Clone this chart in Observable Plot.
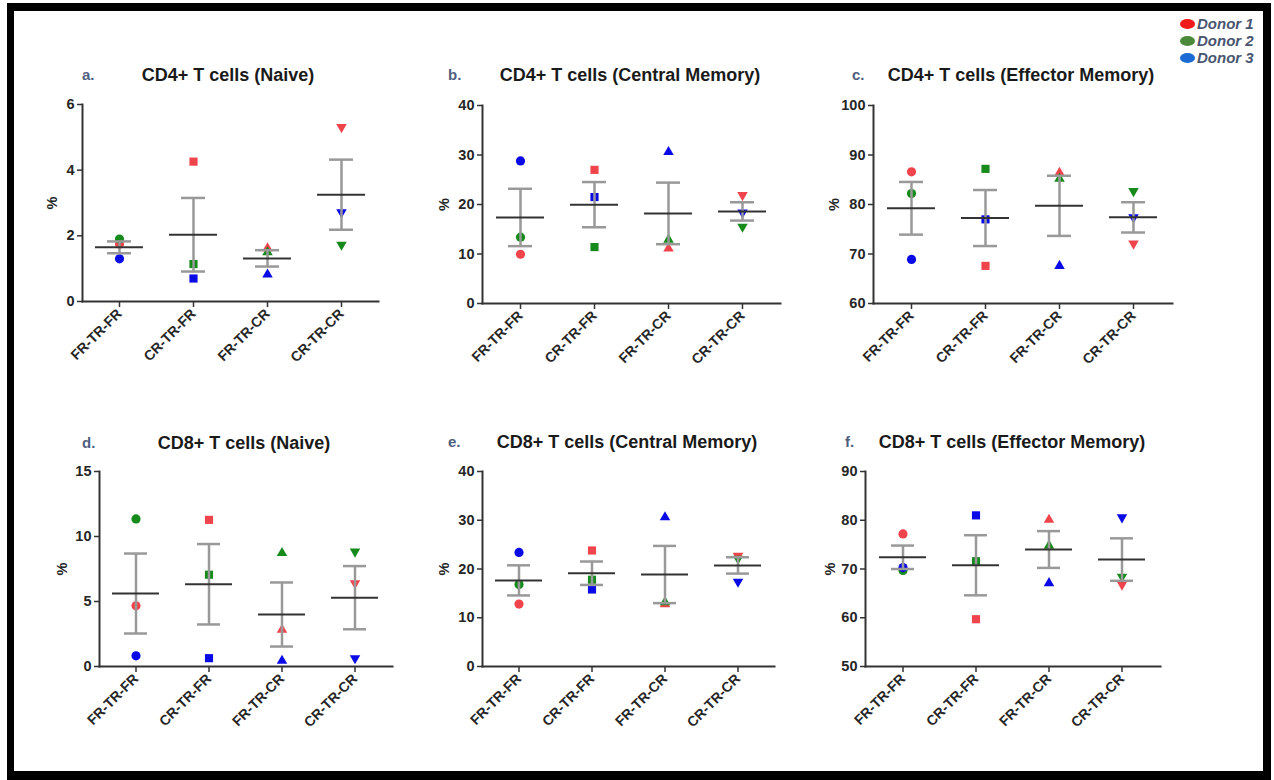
<!DOCTYPE html>
<html>
<head>
<meta charset="utf-8">
<script src="https://cdn.jsdelivr.net/npm/d3@7"></script>
<script src="https://cdn.jsdelivr.net/npm/@observablehq/plot@0.6"></script>
<style>
  html, body { margin: 0; padding: 0; background: #fff; }
  #page { position: relative; width: 1274px; height: 780px; overflow: hidden; background: #fff;
          font-family: "Liberation Sans", Arial, sans-serif; }
  #border { position: absolute; left: 7px; top: 3px; width: 1264px; height: 777px; box-sizing: border-box;
            border: 8px solid #000; border-left-width: 7px; border-bottom-width: 9px; }
  .panel { position: absolute; }
  .title { position: absolute; transform: translate(-50%, -50%); white-space: nowrap;
           font-weight: bold; font-size: 18px; color: #1a1a1a; }
  .letter { position: absolute; transform: translateY(-50%); font-weight: bold; font-size: 15px; color: #4f5f80; }
  #legend { position: absolute; left: 1180px; top: 15px; }
  .lg { display: flex; align-items: center; height: 17px; }
  .sw { width: 15px; height: 10px; border-radius: 50%; margin-right: 2px; }
  .lt { font-weight: bold; font-style: italic; font-size: 15px; color: #4a5670; }
</style>
</head>
<body>
<div id="page">
  <div id="border"></div>
</div>
<script>
// ---- data ----
const categories = ["FR-TR-FR", "CR-TR-FR", "FR-TR-CR", "CR-TR-CR"];
const donors = ["Donor 1", "Donor 2", "Donor 3"];
// values per category: [Donor 1, Donor 2, Donor 3]
const cd4Naive = [[1.75, 1.9, 1.3], [4.26, 1.14, 0.70], [1.62, 1.5, 0.82], [5.31, 1.73, 2.72]];
const cd4Central = [[9.95, 13.4, 28.8], [27.0, 11.4, 21.5], [11.1, 12.9, 30.6], [21.9, 15.5, 18.4]];
const cd4Effector = [[86.6, 82.2, 68.9], [67.6, 87.2, 77.0], [86.4, 85.2, 67.6], [72.1, 82.7, 77.4]];
const cd8Naive = [[4.67, 11.35, 0.82], [11.28, 7.06, 0.64], [2.83, 8.73, 0.44], [6.40, 8.84, 0.64]];
const cd8Central = [[12.8, 16.8, 23.4], [23.8, 17.8, 15.8], [12.8, 13.2, 30.6], [22.7, 22.1, 17.4]];
const cd8Effector = [[77.2, 69.7, 70.3], [59.7, 71.6, 81.0], [80.1, 74.8, 67.1], [66.8, 68.4, 80.6]];

const titles = ["CD4+ T cells (Naive)", "CD4+ T cells (Central Memory)", "CD4+ T cells (Effector Memory)",
                "CD8+ T cells (Naive)", "CD8+ T cells (Central Memory)", "CD8+ T cells (Effector Memory)"];
const letters = ["a.", "b.", "c.", "d.", "e.", "f."];
const yDomains = [[0, 6], [0, 40], [60, 100], [0, 15], [0, 40], [50, 90]];
const yTicks = [[0, 2, 4, 6], [0, 10, 20, 30, 40], [60, 70, 80, 90, 100], [0, 5, 10, 15], [0, 10, 20, 30, 40], [50, 60, 70, 80, 90]];
const yLabel = "%";
const datasets = [cd4Naive, cd4Central, cd4Effector, cd8Naive, cd8Central, cd8Effector];

// ---- layout (pixels) ----
const layout = [
  {frame: [82, 378, 104, 301], tx: 228, ty: 75, lx: 82, labelOff: 32},
  {frame: [482, 780, 105, 303], tx: 630, ty: 75, lx: 448, labelOff: 40},
  {frame: [873, 1172, 105, 303], tx: 1021, ty: 75, lx: 852, labelOff: 41},
  {frame: [99, 392, 471, 666], tx: 244, ty: 443, lx: 82, labelOff: 39},
  {frame: [482, 774, 471, 666], tx: 627, ty: 442, lx: 448, labelOff: 40},
  {frame: [865, 1160, 471, 666], tx: 1012, ty: 442, lx: 845, labelOff: 37}
];
const donorColors = ["#f0444c", "#168a1a", "#0a0ae6"];
const legendColors = ["#f01a1a", "#4a8a3a", "#1a6ad6"];

const page = document.getElementById("page");
const mL = 60, mR = 12, mT = 12, mB = 90;

datasets.forEach((vals, p) => {
  const points = [];
  const stats = [];
  vals.forEach((row, g) => {
    row.forEach((v, d) => points.push({group: categories[g], donor: donors[d], value: v}));
    const m = d3.mean(row), se = d3.deviation(row) / Math.sqrt(row.length);
    stats.push({group: categories[g], mean: m, lo: m - se, hi: m + se});
  });
  const [L, R, T, B] = layout[p].frame;
  const width = R - L + mL + mR, height = B - T + mT + mB;
  const isTri = d => d.group === "FR-TR-CR" || d.group === "CR-TR-CR";
  const chart = Plot.plot({
    width, height,
    marginLeft: mL, marginRight: mR, marginTop: mT, marginBottom: mB,
    style: {fontFamily: "'Liberation Sans', Arial, sans-serif", fontWeight: "bold", fontSize: "14px", color: "#262626", background: "transparent", overflow: "visible"},
    x: {type: "band", domain: categories, paddingInner: 0.35, paddingOuter: 0.175, label: null},
    y: {domain: yDomains[p], label: null},
    r: {type: "identity"},
    color: {domain: donors, range: donorColors},
    symbol: {domain: categories, range: ["circle", "square", "triangle", "triangle"]},
    marks: [
      Plot.axisY({ticks: yTicks[p], tickFormat: d => String(d), tickSize: 5, tickPadding: 3, stroke: "#333", strokeWidth: 1.5,
                  fontSize: 14.5, label: yLabel, labelAnchor: "center", labelArrow: "none", labelOffset: layout[p].labelOff + 4}),
      Plot.axisX({tickSize: 6, tickPadding: 4, tickRotate: -45, stroke: "#333", strokeWidth: 1.5, label: null}),
      Plot.frame({anchor: "left", stroke: "#333", strokeWidth: 2}),
      Plot.frame({anchor: "bottom", stroke: "#333", strokeWidth: 2}),
      Plot.dot(points, {x: "group", y: "value", fill: "donor", symbol: "group",
                        r: d => isTri(d) ? 3.9 : 4.6,
                        rotate: d => d.group === "CR-TR-CR" ? 180 : 0}),
      Plot.ruleX(stats, {x: "group", y1: "lo", y2: "hi", stroke: "#999", strokeWidth: 2.5}),
      Plot.tickY(stats, {x: "group", y: "lo", insetLeft: 12, insetRight: 12, stroke: "#999", strokeWidth: 2.5}),
      Plot.tickY(stats, {x: "group", y: "hi", insetLeft: 12, insetRight: 12, stroke: "#999", strokeWidth: 2.5}),
      Plot.tickY(stats, {x: "group", y: "mean", stroke: "#333", strokeWidth: 2})
    ]
  });
  const wrap = document.createElement("div");
  wrap.className = "panel";
  wrap.style.left = (L - mL) + "px";
  wrap.style.top = (T - mT) + "px";
  wrap.appendChild(chart);
  page.appendChild(wrap);

  const t = document.createElement("div");
  t.className = "title";
  t.textContent = titles[p];
  t.style.left = layout[p].tx + "px";
  t.style.top = layout[p].ty + "px";
  page.appendChild(t);

  const l = document.createElement("div");
  l.className = "letter";
  l.textContent = letters[p];
  l.style.left = layout[p].lx + "px";
  l.style.top = (layout[p].ty - 1) + "px";
  page.appendChild(l);
});

const legend = document.createElement("div");
legend.id = "legend";
donors.forEach((d, i) => {
  const row = document.createElement("div");
  row.className = "lg";
  const sw = document.createElement("div");
  sw.className = "sw";
  sw.style.background = legendColors[i];
  const tx = document.createElement("span");
  tx.className = "lt";
  tx.textContent = d;
  row.appendChild(sw);
  row.appendChild(tx);
  legend.appendChild(row);
});
page.appendChild(legend);
</script>
</body>
</html>
